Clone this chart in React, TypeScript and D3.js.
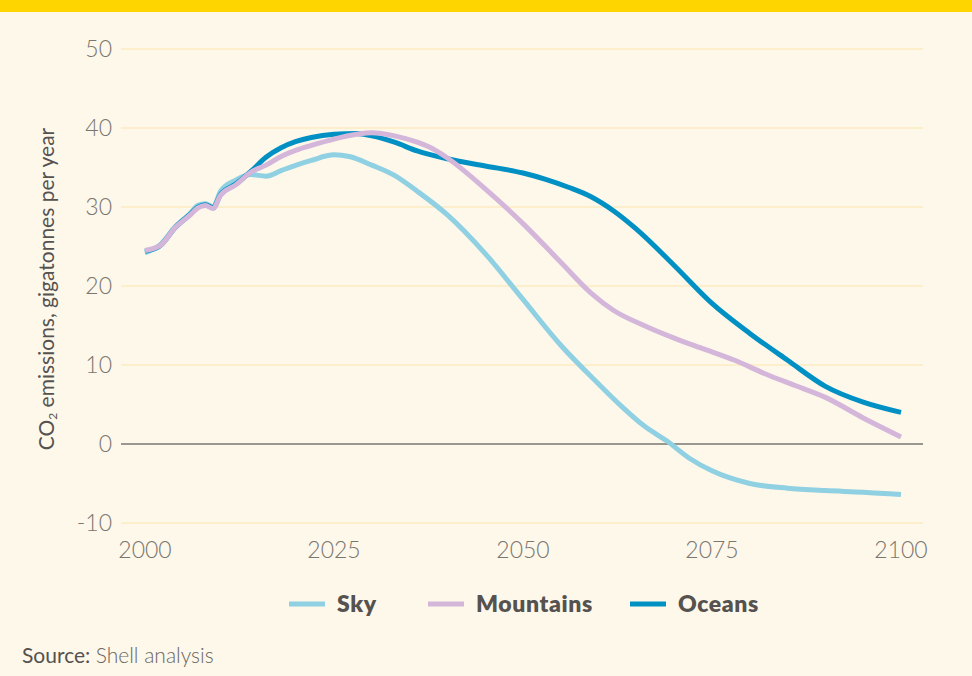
import { useRef, useEffect } from "react";
import * as d3 from "d3";

// [year, gigatonnes CO2 per year]
const skyData: [number, number][] = [
  [2000, 24.2], [2002, 25.2], [2004, 27.5], [2006, 29.2], [2007, 30.2], [2008, 30.4],
  [2009, 30.0], [2010, 32.0], [2012, 33.4], [2014, 34.1], [2016, 33.9], [2018, 34.6],
  [2020, 35.3], [2022, 35.9], [2025, 36.6], [2027, 36.4], [2030, 35.3], [2033, 34.0],
  [2036, 32.0], [2040, 29.0], [2045, 24.1], [2050, 18.3], [2055, 12.5], [2060, 7.6],
  [2063, 4.8], [2066, 2.3], [2069, 0.4], [2072, -1.8], [2075, -3.4], [2080, -5.0],
  [2085, -5.6], [2090, -5.9], [2095, -6.1], [2100, -6.4],
];

const mountainsData: [number, number][] = [
  [2000, 24.5], [2002, 25.1], [2004, 27.4], [2006, 29.0], [2007, 29.9], [2008, 30.2],
  [2009, 29.8], [2010, 31.5], [2012, 32.8], [2014, 34.4], [2016, 35.3], [2018, 36.4],
  [2020, 37.2], [2022, 37.8], [2025, 38.6], [2028, 39.2], [2030, 39.4], [2033, 39.0],
  [2036, 38.2], [2038, 37.4], [2040, 36.2], [2045, 32.3], [2050, 27.9], [2055, 23.0],
  [2059, 19.1], [2062, 16.9], [2066, 15.0], [2070, 13.4], [2074, 12.0], [2078, 10.6],
  [2082, 8.9], [2086, 7.4], [2090, 5.9], [2095, 3.3], [2100, 0.9],
];

const oceansData: [number, number][] = [
  [2000, 24.4], [2002, 25.1], [2004, 27.4], [2006, 29.1], [2007, 30.0], [2008, 30.3],
  [2009, 29.9], [2010, 31.6], [2012, 32.9], [2014, 34.5], [2016, 36.3], [2018, 37.5],
  [2020, 38.3], [2022, 38.8], [2025, 39.2], [2028, 39.3], [2030, 39.0], [2033, 38.2],
  [2036, 37.1], [2040, 36.1], [2045, 35.2], [2050, 34.3], [2053, 33.5], [2056, 32.5],
  [2059, 31.3], [2062, 29.5], [2065, 27.2], [2070, 22.6], [2075, 17.8], [2080, 14.0],
  [2085, 10.6], [2090, 7.3], [2095, 5.3], [2100, 4.0],
];

const xTicks = [2000, 2025, 2050, 2075, 2100];
const yTicks = [-10, 0, 10, 20, 30, 40, 50];

const series = [
  { name: "Sky", data: skyData, color: "#8fd0e2" },
  { name: "Mountains", data: mountainsData, color: "#d3b6da" },
  { name: "Oceans", data: oceansData, color: "#0090c4" },
];
// draw order: lighter lines underneath
const drawOrder = ["Sky", "Oceans", "Mountains"];

const W = 972;
const H = 676;
const FONT = "Lato, 'Open Sans', sans-serif";

export default function App() {
  const svgRef = useRef<SVGSVGElement>(null);

  useEffect(() => {
    const svg = d3.select(svgRef.current);
    svg.selectAll("*").remove();

    svg.append("rect").attr("width", W).attr("height", H).attr("fill", "#fdf8ea");
    svg.append("rect").attr("width", W).attr("height", 12).attr("fill", "#ffd500");

    const x = d3.scaleLinear().domain([2000, 2100]).range([145, 901]);
    const y = d3.scaleLinear().domain([-10, 50]).range([523, 49]);
    const gridX1 = 121;
    const gridX2 = 923;

    // gridlines
    svg.append("g")
      .selectAll("line")
      .data(yTicks.filter((d) => d !== 0))
      .enter()
      .append("line")
      .attr("x1", gridX1)
      .attr("x2", gridX2)
      .attr("y1", (d) => y(d))
      .attr("y2", (d) => y(d))
      .attr("stroke", "#fcebc2")
      .attr("stroke-width", 1.5);

    // zero line
    svg.append("line")
      .attr("x1", gridX1)
      .attr("x2", gridX2)
      .attr("y1", y(0))
      .attr("y2", y(0))
      .attr("stroke", "#9a9690")
      .attr("stroke-width", 1.8);

    // y tick labels
    svg.append("g")
      .selectAll("text")
      .data(yTicks)
      .enter()
      .append("text")
      .attr("x", 112)
      .attr("y", (d) => y(d) + 8)
      .attr("text-anchor", "end")
      .attr("fill", "#7a7670")
      .attr("font-size", "23px")
      .attr("font-weight", 300)
      .attr("font-family", FONT)
      .text((d) => String(d));

    // x tick labels
    svg.append("g")
      .selectAll("text")
      .data(xTicks)
      .enter()
      .append("text")
      .attr("x", (d) => x(d))
      .attr("y", 558)
      .attr("text-anchor", "middle")
      .attr("fill", "#7a7670")
      .attr("font-size", "23px")
      .attr("font-weight", 300)
      .attr("font-family", FONT)
      .text((d) => String(d));

    // y axis title
    const title = svg.append("text")
      .attr("transform", "translate(54,289) rotate(-90)")
      .attr("text-anchor", "middle")
      .attr("fill", "#555250")
      .attr("font-size", "21px")
      .attr("font-family", FONT);
    title.append("tspan").text("CO");
    title.append("tspan").attr("font-size", "12px").attr("dy", 3).text("2");
    title.append("tspan").attr("dy", -3).text(" emissions, gigatonnes per year");

    // lines
    const line = d3.line<[number, number]>()
      .x((d) => x(d[0]))
      .y((d) => y(d[1]))
      .curve(d3.curveMonotoneX);

    drawOrder.forEach((name) => {
      const s = series.find((v) => v.name === name)!;
      svg.append("path")
        .datum(s.data)
        .attr("d", line)
        .attr("fill", "none")
        .attr("stroke", s.color)
        .attr("stroke-width", 5)
        .attr("stroke-linejoin", "round");
    });

    // legend
    const legendX = [289, 428, 630];
    const legend = svg.append("g");
    series.forEach((s, i) => {
      legend.append("line")
        .attr("x1", legendX[i])
        .attr("x2", legendX[i] + 36)
        .attr("y1", 604)
        .attr("y2", 604)
        .attr("stroke", s.color)
        .attr("stroke-width", 5);
      legend.append("text")
        .attr("x", legendX[i] + 48)
        .attr("y", 612)
        .attr("fill", "#555250")
        .attr("font-size", "23px")
        .attr("font-weight", 800)
        .attr("letter-spacing", "0.6px")
        .attr("font-family", FONT)
        .text(s.name);
    });

    // source
    const src = svg.append("text")
      .attr("x", 22)
      .attr("y", 663)
      .attr("fill", "#555250")
      .attr("font-size", "21px")
      .attr("font-family", FONT);
    src.append("tspan").text("Source: ");
    src.append("tspan").attr("font-weight", 300).attr("fill", "#6a6660").text("Shell analysis");
  }, []);

  return (
    <div style={{ position: "fixed", left: 0, top: 0, width: W, height: H }}>
      <svg ref={svgRef} width={W} height={H} style={{ display: "block" }} />
    </div>
  );
}
